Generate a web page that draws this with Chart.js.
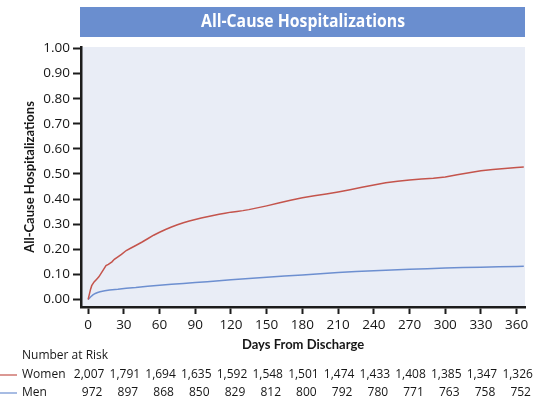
<!DOCTYPE html>
<html>
<head>
<meta charset="utf-8">
<script src="https://cdn.jsdelivr.net/npm/chart.js@4"></script>
<style>
  html, body { margin: 0; padding: 0; background: #ffffff; }
  canvas { display: block; }
</style>
</head>
<body>
<canvas id="chart" width="536" height="403"></canvas>
<script>
// Cumulative incidence of all-cause hospitalization after discharge, by sex
const chartTitle = 'All-Cause Hospitalizations';
const yAxisTitle = 'All-Cause Hospitalizations';
const xAxisTitle = 'Days From Discharge';

const xTickValues = [0, 30, 60, 90, 120, 150, 180, 210, 240, 270, 300, 330, 360];
const yTickValues = [0, 0.1, 0.2, 0.3, 0.4, 0.5, 0.6, 0.7, 0.8, 0.9, 1.0];

const womenDays = [0, 1, 2, 3, 5, 7, 9, 11, 13, 15, 17, 20, 22, 25, 28, 32, 36, 40, 45, 50,
  55, 60, 65, 70, 75, 80, 85, 90, 95, 100, 105, 110, 115, 120, 125, 130, 135, 140, 145, 150,
  160, 170, 180, 190, 200, 210, 220, 230, 240, 250, 260, 270, 280, 290, 300, 310, 320, 330,
  340, 350, 360, 366];
const womenCum = [0, 0.02, 0.04, 0.055, 0.07, 0.08, 0.09, 0.105, 0.12, 0.135, 0.14, 0.15, 0.16,
  0.17, 0.18, 0.195, 0.205, 0.215, 0.228, 0.242, 0.256, 0.268, 0.279, 0.289, 0.298, 0.306,
  0.313, 0.319, 0.325, 0.330, 0.335, 0.340, 0.344, 0.348, 0.351, 0.354, 0.358, 0.363, 0.368,
  0.373, 0.384, 0.395, 0.405, 0.413, 0.420, 0.428, 0.437, 0.447, 0.456, 0.465, 0.471, 0.476,
  0.480, 0.483, 0.488, 0.497, 0.505, 0.513, 0.518, 0.522, 0.526, 0.528];

const menDays = [0, 2, 4, 6, 8, 10, 14, 18, 25, 32, 40, 50, 60, 70, 80, 90, 100, 110, 120, 135,
  150, 165, 180, 195, 210, 225, 240, 255, 270, 285, 300, 315, 330, 345, 360, 366];
const menCum = [0, 0.01, 0.018, 0.024, 0.028, 0.031, 0.035, 0.038, 0.041, 0.045, 0.048, 0.053,
  0.057, 0.061, 0.064, 0.068, 0.071, 0.075, 0.079, 0.084, 0.089, 0.094, 0.098, 0.102, 0.107,
  0.111, 0.114, 0.117, 0.120, 0.122, 0.125, 0.127, 0.128, 0.130, 0.131, 0.132];

const riskGroups = ['Women', 'Men'];
const riskWomen = [2007, 1791, 1694, 1635, 1592, 1548, 1501, 1474, 1433, 1408, 1385, 1347, 1326];
const riskMen = [972, 897, 868, 850, 829, 812, 800, 792, 780, 771, 763, 758, 752];

const womenColor = '#c4544c';
const menColor = '#6d8fd0';
const axisColor = '#1c1c1c';
const textColor = '#161616';

const toPoints = (xs, ys) => xs.map((x, i) => ({ x: x, y: ys[i] }));

// Title banner and shaded plot background
const backdrop = {
  id: 'backdrop',
  beforeDraw(chart) {
    const { ctx, chartArea } = chart;
    ctx.save();
    ctx.fillStyle = '#e9edf6';
    ctx.fillRect(chartArea.left, chartArea.top, chartArea.right - chartArea.left,
      chartArea.bottom - chartArea.top);
    ctx.fillStyle = '#6a8ecf';
    ctx.fillRect(chartArea.left - 1, 7, chartArea.right - chartArea.left + 1, 30);
    ctx.fillStyle = '#ffffff';
    ctx.font = 'bold 17px "Open Sans"';
    ctx.textAlign = 'center';
    ctx.textBaseline = 'middle';
    ctx.fillText(chartTitle, (chartArea.left + chartArea.right) / 2, 22.5, 204);
    ctx.restore();
  }
};

// Number-at-risk table aligned to the day ticks
const riskTable = {
  id: 'riskTable',
  afterDraw(chart) {
    const { ctx } = chart;
    const xs = chart.scales.x;
    ctx.save();
    ctx.font = '12px "Open Sans"';
    ctx.fillStyle = textColor;
    ctx.textBaseline = 'middle';
    ctx.textAlign = 'left';
    ctx.fillText('Number at Risk', 22, 356);
    const rows = [
      { name: riskGroups[0], counts: riskWomen, color: womenColor, y: 375, shift: 1 },
      { name: riskGroups[1], counts: riskMen, color: menColor, y: 393, shift: 4 }
    ];
    rows.forEach(row => {
      ctx.strokeStyle = row.color;
      ctx.lineWidth = 1.2;
      ctx.beginPath();
      ctx.moveTo(0, row.y);
      ctx.lineTo(17, row.y);
      ctx.stroke();
      ctx.textAlign = 'left';
      ctx.fillText(row.name, 22, row.y);
      ctx.textAlign = 'center';
      row.counts.forEach((n, i) => {
        const px = xs.getPixelForValue(xTickValues[i]) + row.shift;
        ctx.fillText(n.toLocaleString('en-US'), px, row.y);
      });
    });
    ctx.restore();
  }
};

new Chart(document.getElementById('chart'), {
  type: 'line',
  data: {
    datasets: [
      { label: 'Women', data: toPoints(womenDays, womenCum), borderColor: womenColor,
        borderWidth: 1.5, pointRadius: 0, tension: 0, fill: false },
      { label: 'Men', data: toPoints(menDays, menCum), borderColor: menColor,
        borderWidth: 1.5, pointRadius: 0, tension: 0, fill: false }
    ]
  },
  options: {
    responsive: false,
    animation: false,
    layout: { padding: { top: 47, right: 11, left: 0, bottom: 0 } },
    plugins: { legend: { display: false }, tooltip: { enabled: false } },
    scales: {
      x: {
        type: 'linear',
        min: -6,
        max: 367,
        afterBuildTicks: s => { s.ticks = xTickValues.map(v => ({ value: v })); },
        afterFit: s => { s.height = 96; },
        grid: { drawOnChartArea: false, drawTicks: true, tickLength: 7, tickWidth: 2, tickColor: axisColor },
        border: { display: true, color: axisColor, width: 2.5 },
        ticks: { color: textColor, font: { family: 'Open Sans', size: 13.5 }, padding: 3,
          maxRotation: 0, autoSkip: false },
        title: { display: true, text: xAxisTitle, color: textColor,
          font: { family: 'Lato', weight: 'bold', size: 13 }, padding: { top: 0, bottom: 50 } }
      },
      y: {
        type: 'linear',
        min: -0.03,
        max: 1.006,
        afterBuildTicks: s => { s.ticks = yTickValues.map(v => ({ value: v })); },
        afterFit: s => { s.width = 81; },
        grid: { drawOnChartArea: false, drawTicks: true, tickLength: 8, tickWidth: 2, tickColor: axisColor },
        border: { display: true, color: axisColor, width: 2.5 },
        ticks: { color: textColor, font: { family: 'Open Sans', size: 13.5 }, padding: 3,
          callback: v => Number(v).toFixed(2) },
        title: { display: true, text: yAxisTitle, color: textColor,
          font: { family: 'Lato', weight: 'bold', size: 13 }, padding: { top: 22, bottom: 0 } }
      }
    }
  },
  plugins: [backdrop, riskTable]
});
</script>
</body>
</html>
